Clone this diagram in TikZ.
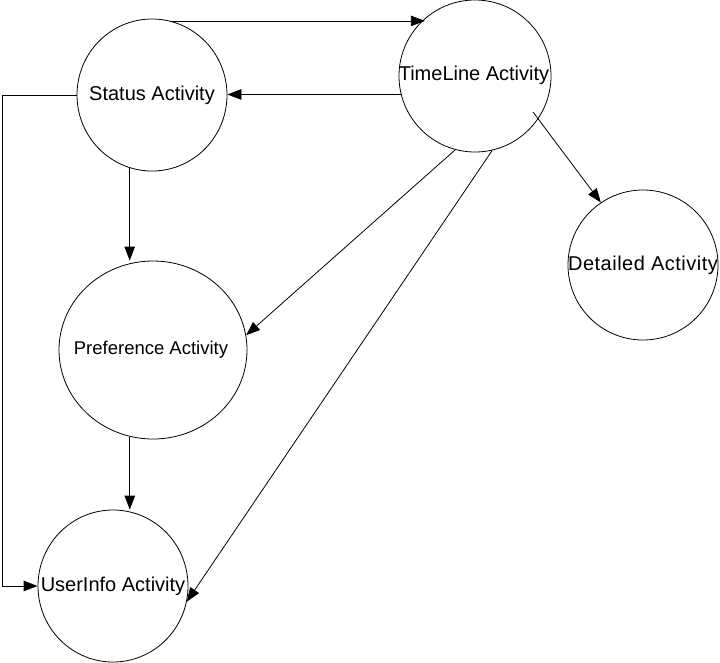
\documentclass[tikz,border=0pt]{standalone}
\usepackage{fontspec}
\setmainfont{Liberation Sans}
\usetikzlibrary{shapes.geometric,arrows.meta,calc}
\begin{document}
\begin{tikzpicture}[x=1pt,y=-1pt,
  act/.style={draw, ellipse, inner sep=0pt, line width=0.8pt},
  lbl/.style={font=\fontsize{20}{23}\selectfont, inner sep=0pt},
  arr/.style={draw, line width=0.8pt, -{Triangle[length=14pt,width=10.5pt]}}]
\useasboundingbox (0,0) rectangle (720,662);
% activities
\node[act, minimum width=150pt, minimum height=152pt] (st) at (152,95) {};
\node[act, minimum width=152pt, minimum height=152pt] (tl) at (475,76) {};
\node[act, minimum width=150pt, minimum height=150pt] (dt) at (643,265) {};
\node[act, minimum width=188pt, minimum height=178pt] (pr) at (153,350) {};
\node[act, minimum width=150pt, minimum height=152pt] (ui) at (113,586) {};
% labels
\node[lbl] (stt) at (152,95) {Status Activity};
\node[lbl] (tlt) at (474,75) {TimeLine Activity};
\node[lbl, font=\fontsize{20}{23}\selectfont\addfontfeature{LetterSpace=2.5}] (dtt) at (643,265) {Detailed Activity};
\node[lbl, font=\fontsize{18.5}{22}\selectfont] (prt) at (151,350) {Preference Activity};
\node[lbl] (uit) at (113,586) {UserInfo Activity};
\coordinate (lx) at (2,0);
% connectors
\draw[arr] (st.76) -- (st.76 -| tl.131);
\draw[arr] (tl.194) -- (tl.194 -| st.east);
\draw[arr] (st.west) -- (st.west -| lx) |- (ui.west);
\draw[arr] (st.-107) -- (st.-107 |- pr.north);
\draw[arr] (pr.-105) -- (pr.-105 |- ui.north);
\draw[arr] (tl.-105) -- (pr.9);
\draw[arr] (tl.-77) -- (ui.-12.5);
\draw[arr] ($(tl.center)+(58,36)$) -- (dt.124);
\end{tikzpicture}
\end{document}
